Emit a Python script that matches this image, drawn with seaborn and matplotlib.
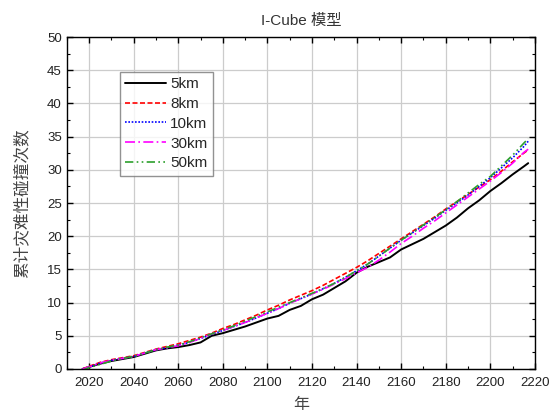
import matplotlib
matplotlib.use("Agg")
import matplotlib.pyplot as plt
import seaborn as sns
import pandas as pd
from matplotlib.ticker import MultipleLocator

years = [2017, 2020, 2025, 2030, 2035, 2040, 2045, 2050, 2055, 2060, 2065, 2070,
         2075, 2080, 2085, 2090, 2095, 2100, 2105, 2110, 2115, 2120, 2125, 2130,
         2135, 2140, 2145, 2150, 2155, 2160, 2165, 2170, 2175, 2180, 2185, 2190,
         2195, 2200, 2205, 2210, 2215, 2217]

y_5km = [0.0, 0.3, 0.8, 1.2, 1.5, 1.8, 2.3, 2.8, 3.1, 3.3, 3.6, 4.0,
         5.0, 5.4, 5.9, 6.4, 7.0, 7.6, 8.0, 8.9, 9.5, 10.5, 11.2, 12.2,
         13.2, 14.5, 15.4, 16.1, 16.8, 18.0, 18.8, 19.6, 20.6, 21.6, 22.8, 24.2,
         25.4, 26.8, 28.0, 29.3, 30.5, 31.0]
y_8km = [0.0, 0.4, 1.0, 1.4, 1.7, 2.0, 2.5, 3.0, 3.4, 3.8, 4.3, 4.8,
         5.4, 6.1, 6.7, 7.4, 8.1, 8.9, 9.6, 10.4, 11.1, 11.8, 12.6, 13.5,
         14.4, 15.3, 16.3, 17.4, 18.5, 19.6, 20.7, 21.8, 22.9, 24.1, 25.2, 26.3,
         27.4, 28.5, 29.8, 31.2, 32.5, 33.0]
y_10km = [0.0, 0.3, 0.9, 1.3, 1.6, 1.9, 2.4, 2.9, 3.2, 3.6, 4.0, 4.6,
          5.2, 5.8, 6.4, 7.0, 7.7, 8.4, 9.1, 9.9, 10.6, 11.3, 12.1, 12.9,
          13.8, 14.8, 15.8, 17.0, 18.2, 19.4, 20.5, 21.6, 22.7, 23.9, 25.0, 26.2,
          27.5, 28.8, 30.3, 31.8, 33.5, 34.3]
y_30km = [0.0, 0.3, 0.9, 1.3, 1.6, 1.9, 2.4, 2.9, 3.2, 3.5, 4.0, 4.6,
          5.3, 5.8, 6.4, 7.0, 7.7, 8.4, 9.1, 9.9, 10.6, 11.3, 12.0, 12.8,
          13.6, 14.5, 15.3, 16.4, 17.6, 18.9, 20.0, 21.2, 22.3, 23.5, 24.7, 25.9,
          27.1, 28.3, 29.6, 31.0, 32.6, 33.1]
y_50km = [-0.2, 0.2, 0.7, 1.2, 1.6, 1.9, 2.4, 2.9, 3.3, 3.6, 4.1, 4.7,
          5.3, 5.9, 6.5, 7.2, 7.9, 8.6, 9.3, 10.0, 10.7, 11.4, 12.1, 12.9,
          13.8, 14.8, 15.8, 17.0, 18.2, 19.4, 20.5, 21.7, 22.8, 24.0, 25.2, 26.5,
          27.8, 29.0, 30.6, 32.2, 34.0, 34.7]

labels = ["5km", "8km", "10km", "30km", "50km"]
series = [y_5km, y_8km, y_10km, y_30km, y_50km]

sns.set_style("ticks")
plt.rcParams["font.family"] = ["Liberation Sans", "Noto Sans CJK SC", "DejaVu Sans"]

fig = plt.figure(figsize=(5.52, 4.16), dpi=100)
ax = fig.add_axes([0.121, 0.113, 0.848, 0.798])

colors = ["black", "red", "blue", "magenta", "#2ca02c"]
dashes = [(None, None), (3, 1.5), (1, 1), (6, 2, 1, 2), (5, 2, 1, 2, 1, 2)]
widths = [1.4, 1.2, 1.2, 1.2, 1.2]

for lab, vals, c, d, w in zip(labels, series, colors, dashes, widths):
    df = pd.DataFrame({"year": years, "count": vals})
    line_ax = sns.lineplot(data=df, x="year", y="count", ax=ax, color=c,
                           linewidth=w, label=lab)
    ln = line_ax.get_lines()[-1]
    if d[0] is not None:
        ln.set_dashes(d)

ax.set_xlim(2010, 2220)
ax.set_ylim(0, 50)
ax.xaxis.set_major_locator(MultipleLocator(20))
ax.xaxis.set_minor_locator(MultipleLocator(10))
ax.yaxis.set_major_locator(MultipleLocator(5))
ax.yaxis.set_minor_locator(MultipleLocator(2.5))
ax.set_xticks(list(range(2020, 2221, 20)))
ax.grid(True, which="major", color="#cccccc", linewidth=0.9)
ax.set_axisbelow(True)
ax.tick_params(which="both", direction="in", top=True, right=True,
               labelsize=9.5, colors="black", labelcolor="#222222")
ax.tick_params(axis="x", which="major", pad=6)
ax.tick_params(which="major", length=4, width=1)
ax.tick_params(which="minor", length=2.5, width=0.8)
for s in ax.spines.values():
    s.set_color("black")
    s.set_linewidth(1.0)

ax.set_xlabel("年", fontsize=11.5, color="#444444",
              family=["Noto Sans CJK SC"], labelpad=5)
ax.set_ylabel("累计灾难性碰撞次数", fontsize=12, color="#444444",
              family=["Noto Sans CJK SC"], labelpad=12)
ax.set_title("I-Cube 模型", fontsize=11, color="#333333", pad=9)

leg = ax.legend(loc="upper left", bbox_to_anchor=(0.113, 0.895), fontsize=11,
                frameon=True, fancybox=False, edgecolor="#777777",
                handlelength=2.7, handletextpad=0.25, borderpad=0.35,
                labelspacing=0.38, borderaxespad=0)
leg.get_frame().set_linewidth(1.0)

fig.savefig("out.png", dpi=100)
